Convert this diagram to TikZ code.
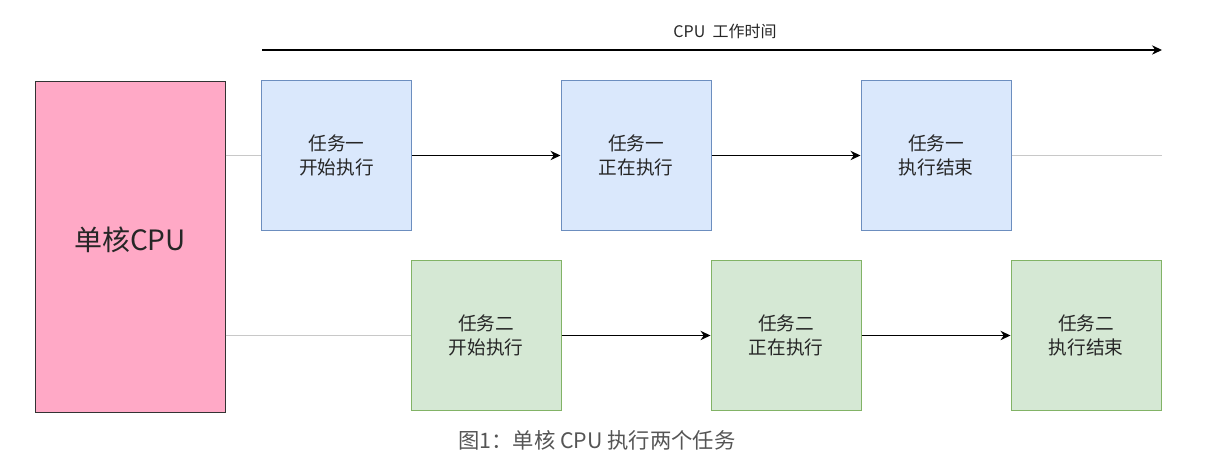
\documentclass[tikz,border=0pt]{standalone}
\usepackage{fontspec}
\setmainfont{Noto Sans CJK SC}
\usetikzlibrary{arrows.meta}
\definecolor{cpupink}{HTML}{FFA9C6}
\definecolor{blfill}{HTML}{DAE8FC}
\definecolor{bldraw}{HTML}{6C8EBF}
\definecolor{grfill}{HTML}{D5E8D4}
\definecolor{grdraw}{HTML}{82B366}
\definecolor{linkgray}{HTML}{C8C8C8}
\definecolor{captgray}{HTML}{555555}
\tikzset{
  taskbox/.style={rectangle, minimum width=112.5pt, minimum height=112.5pt, line width=0.75pt, inner sep=0pt, align=center, font=\fontsize{14pt}{18.5pt}\selectfont, text=black!85},
  bluebox/.style={taskbox, fill=blfill, draw=bldraw},
  greenbox/.style={taskbox, fill=grfill, draw=grdraw},
  cpubox/.style={rectangle, minimum width=142.5pt, minimum height=247.5pt, line width=0.75pt, fill=cpupink, draw=black!80, inner sep=0pt},
  flow/.style={draw=black, line width=1pt, -{Stealth[length=7.5pt,width=7pt]}},
  link/.style={draw=linkgray, line width=0.9pt},
}
\begin{document}
\begin{tikzpicture}[x=0.75pt,y=-0.75pt]
\useasboundingbox (0,0) rectangle (1219,473);
% time axis
\coordinate (ts) at (262,50);
\coordinate (te) at (1162,50);
\draw[flow] (ts) -- (te);
\node[font=\fontsize{12pt}{14pt}\selectfont, text=black!85] (tlabel) at (725,31) {CPU\ \ 工作时间};
% CPU
\node[cpubox] (cpu) at (130,247) {};
\node[font=\fontsize{21pt}{24pt}\selectfont, text=black!85] (cpulabel) at (130,240) {单核CPU};
% task one
\node[bluebox] (a1) at (336.5,155.5) {任务一\\开始执行};
\node[bluebox] (a2) at (636,155.5) {任务一\\正在执行};
\node[bluebox] (a3) at (936,155.5) {任务一\\执行结束};
% task two
\node[greenbox] (b1) at (486,335.5) {任务二\\开始执行};
\node[greenbox] (b2) at (786,335.5) {任务二\\正在执行};
\node[greenbox] (b3) at (1086,335.5) {任务二\\执行结束};
% links
\coordinate (aend) at (1162,155.5);
\draw[link] (cpu.east |- a1.west) -- (a1.west);
\draw[link] (a3.east) -- (aend);
\draw[link] (cpu.east |- b1.west) -- (b1.west);
\draw[flow] (a1) -- (a2);
\draw[flow] (a2) -- (a3);
\draw[flow] (b1) -- (b2);
\draw[flow] (b2) -- (b3);
% caption
\node[font=\fontsize{16pt}{19pt}\selectfont, text=captgray] (caption) at (597,440) {图1：单核 CPU 执行两个任务};
\end{tikzpicture}
\end{document}
